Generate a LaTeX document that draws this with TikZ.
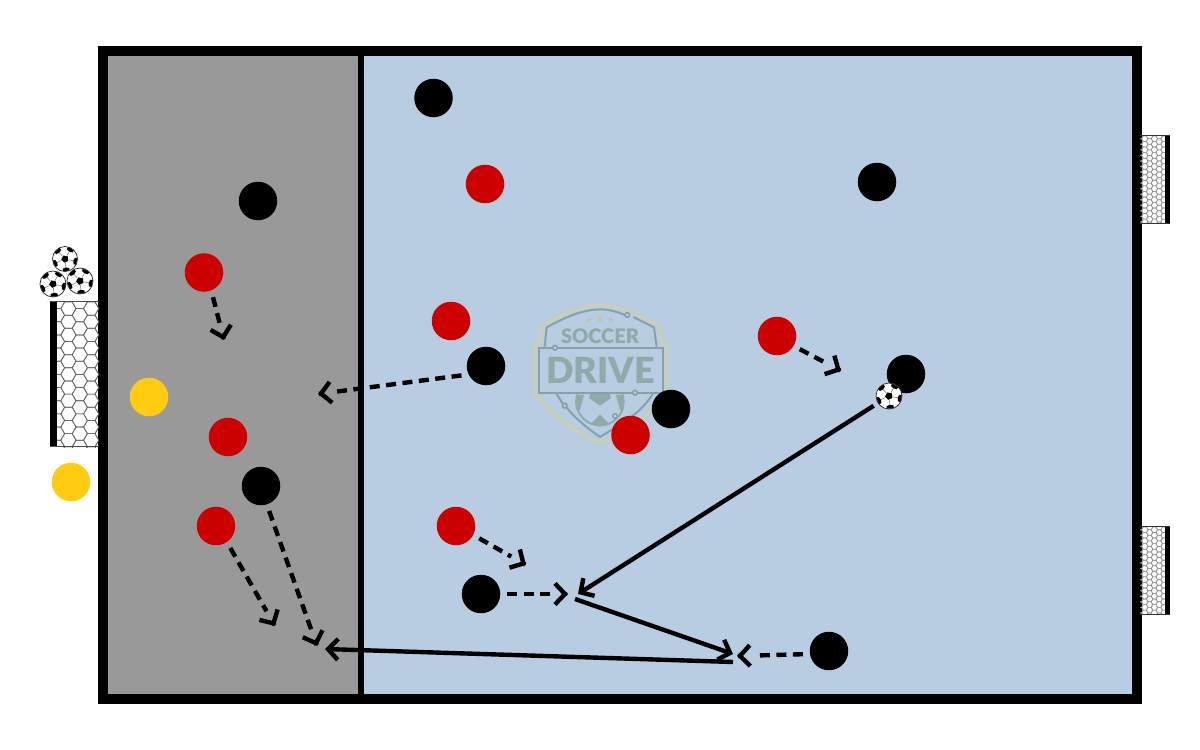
\documentclass[tikz,border=0pt]{standalone}
\usepackage{fontspec}
\setmainfont{Lato}
\newfontfamily\logofont{Lato Black}
\usetikzlibrary{arrows.meta,calc}
\definecolor{fieldblue}{HTML}{B8CDE1}
\definecolor{fieldgrey}{HTML}{999999}
\definecolor{pred}{HTML}{CC0000}
\definecolor{pyellow}{HTML}{FFCC11}
\definecolor{logoteal}{HTML}{8FABA9}
\definecolor{logoline}{HTML}{86A2A8}
\definecolor{logogold}{HTML}{CDCFAE}
\tikzset{
  player/.style={circle,minimum size=38.5pt,inner sep=0pt,outer sep=7pt},
  blackp/.style={player,fill=black},
  redp/.style={player,fill=pred},
  yellowp/.style={player,fill=pyellow},
  rundash/.style={line width=4.4pt,dash pattern=on 10pt off 6.5pt,shorten >=17pt},
  runtip/.style={line width=4.4pt,-{Straight Barb[length=10pt,width=21pt]}},
  pass/.style={line width=4.4pt,-{Straight Barb[length=10pt,width=21pt]}},
  ballspot/.style={circle,minimum size=36pt,inner sep=0pt},
  pics/sball/.style={code={
    \begin{scope}
      \fill[white] (0,0) circle (#1);
      \clip (0,0) circle (#1);
      \fill[black] (90+12:0.3*#1) -- (162+12:0.3*#1) -- (234+12:0.3*#1) -- (306+12:0.3*#1) -- (18+12:0.3*#1) -- cycle;
      \foreach \a in {12,84,156,228,300}{
        \fill[black] (\a-16:1.0*#1) -- (\a-19:0.80*#1) -- (\a:0.68*#1) -- (\a+19:0.80*#1) -- (\a+16:1.0*#1) -- cycle;
        \draw[black!55,line width=0.5pt] (\a:0.3*#1) -- (\a:0.7*#1);
      }
    \end{scope}
    \draw[black!85,line width=0.7pt] (0,0) circle (#1);
  }}
}
% dashed run from a node to a free end, with its open head standing apart
\newcommand{\runarrow}[2]{%
  \draw[rundash] (#1) -- (#2);
  \draw[runtip] ($(#2)!1pt!(#1)$) -- (#2);
}
% hexagonal net: x0 y0 x1 y1 cell-size colour
\newcommand{\hexnet}[6]{%
  \begin{scope}
    \clip (#1,#2) rectangle (#3,#4);
    \pgfmathtruncatemacro{\ncols}{(#3-#1)/(1.5*#5)+2}
    \pgfmathtruncatemacro{\nrows}{(#4-#2)/(1.732*#5)+2}
    \foreach \ci in {0,...,\ncols}{
      \foreach \ri in {0,...,\nrows}{
        \pgfmathsetmacro{\hx}{#1+\ci*1.5*#5}
        \pgfmathsetmacro{\hy}{#2+(\ri+0.5*mod(\ci,2))*1.732*#5}
        \draw[#6,line width=0.7pt] (\hx+#5,\hy) -- (\hx+0.5*#5,\hy+0.866*#5) -- (\hx-0.5*#5,\hy+0.866*#5) -- (\hx-#5,\hy) -- (\hx-0.5*#5,\hy-0.866*#5) -- (\hx+0.5*#5,\hy-0.866*#5) -- cycle;
      }
    }
  \end{scope}
}
\begin{document}
\begin{tikzpicture}[x=1pt,y=-1pt]
\useasboundingbox (0,0) rectangle (1200,750);
\fill[white] (0,0) rectangle (1200,750);

% field
\fill[fieldgrey] (103,51) rectangle (361,699);
\fill[fieldblue] (361,51) rectangle (1136,699);
\draw[line width=6.5pt] (360.8,51) -- (360.8,699);
\draw[line width=10pt] (102.5,51) rectangle (1136.5,699);

% left goal
\hexnet{57}{302}{99}{447}{7.6}{black!60}
\fill[black] (50,301) rectangle (57,447);
\draw[black!70,line width=1pt] (50,301.5) -- (99,301.5);
\draw[black!70,line width=1pt] (50,446.5) -- (99,446.5);

% right goals
\hexnet{1140}{136}{1166}{223}{3.2}{black!40}
\fill[black] (1165,135) rectangle (1170,224);
\draw[black!80,line width=1pt] (1140,135.5) -- (1170,135.5);
\draw[black!80,line width=1pt] (1140,223.5) -- (1170,223.5);
\hexnet{1140}{527}{1166}{614}{3.2}{black!40}
\fill[black] (1165,526) rectangle (1170,615);
\draw[black!80,line width=1pt] (1140,526.5) -- (1170,526.5);
\draw[black!80,line width=1pt] (1140,614.5) -- (1170,614.5);

% logo (drawn in the coordinates of a 3x crop)
\begin{scope}[shift={(520,295)},x=0.3333pt,y=-0.3333pt]
  \draw[logogold,line width=2.8pt,line join=round]
    (240,30) .. controls (180,32) and (120,60) .. (65,95) -- (60,145) -- (45,145) -- (45,305)
    -- (60,305) .. controls (80,360) and (170,410) .. (240,445)
    .. controls (310,410) and (400,360) .. (425,305) -- (440,305) -- (440,145) -- (425,145) -- (420,95)
    .. controls (360,60) and (300,32) .. (240,30) -- cycle;
  \draw[logoline,line width=2pt,line join=round]
    (315,60) .. controls (290,50) and (265,43) .. (240,43) .. controls (180,45) and (130,70) .. (80,97) -- (74,155);
  \draw[logoline,line width=2pt,line join=round]
    (340,66) -- (402,97) -- (410,155);
  \draw[logoline,line width=1.6pt] (322,60) circle (7);
  \draw[logoline,line width=2pt] (112,158) -- (428,158) -- (428,295) -- (352,295);
  \draw[logoline,line width=2pt] (98,158) -- (58,158) -- (58,295) -- (338,295);
  \draw[logoline,line width=1.6pt] (105,158) circle (7);
  \draw[logoline,line width=1.6pt] (345,293) circle (7);
  \draw[logoline,line width=2pt,line join=round] (110,297) -- (128,326);
  \draw[logoline,line width=2pt,line join=round] (140,338) .. controls (170,375) and (210,405) .. (240,426) .. controls (290,395) and (360,360) .. (398,297);
  \draw[logoline,line width=1.6pt] (134,332) circle (7);
  \draw[logoline,line width=1.6pt] (285,363) circle (7);
  \begin{scope}
    \clip (100,298) rectangle (380,400);
    \clip (240,320) circle (74);
    \draw[logoteal,line width=3pt] (240,320) circle (73);
    \fill[logoteal] (210,296) -- (270,296) -- (272,310) -- (240,332) -- (208,310) -- cycle;
    \fill[logoteal] (165,300) -- (192,300) -- (180,345) -- (165,345) -- cycle;
    \fill[logoteal] (315,300) -- (288,300) -- (300,345) -- (315,345) -- cycle;
    \fill[logoteal] (205,395) -- (240,358) -- (275,395) -- cycle;
  \end{scope}
  \node[text=logoteal,font=\logofont\fontsize{20pt}{21pt}\selectfont,inner sep=0pt] (soccertxt) at (240,123) {SOCCER};
  \node[text=logoteal,font=\logofont\fontsize{36pt}{37pt}\selectfont,inner sep=0pt] (drivetxt) at (242,226) {DRIVE};
  \foreach \sx/\sy/\sr in {206/75/10,240/72/12,273/75/10}{
    \fill[logogold!75!logoteal] (\sx,\sy-\sr)
      \foreach \k in {1,...,9}{ -- ({\sx+(mod(\k,2)==0?\sr:0.42*\sr)*sin(36*\k)},{\sy-(mod(\k,2)==0?\sr:0.42*\sr)*cos(36*\k)}) } -- cycle;
  }
\end{scope}

% players
\node[blackp] (b1) at (433.5,98) {};
\node[blackp] (b2) at (258,201) {};
\node[blackp] (b3) at (877,182) {};
\node[blackp] (b4) at (486,366) {};
\node[blackp] (b5) at (906,374) {};
\node[blackp] (b6) at (671,409) {};
\node[blackp] (b7) at (261,486) {};
\node[blackp] (b8) at (481,594) {};
\node[blackp] (b9) at (829,651) {};
\node[redp] (r1) at (485,184) {};
\node[redp] (r2) at (204,272.5) {};
\node[redp] (r3) at (451,321) {};
\node[redp] (r4) at (777,336) {};
\node[redp] (r5) at (228,437) {};
\node[redp] (r6) at (630.5,435) {};
\node[redp] (r7) at (216,526) {};
\node[redp] (r8) at (456,526) {};
\node[yellowp] (y1) at (149,397) {};
\node[yellowp] (y2) at (71,482) {};

% balls
\pic at (65,259) {sball=12.5};
\pic at (53,284) {sball=13};
\pic at (80,281) {sball=13};
\node[ballspot] (ball) at (889,396) {};
\pic at (889,396) {sball=13};

% free ends
\coordinate (t1) at (224,340);
\coordinate (t2) at (318,394);
\coordinate (t3) at (841,371);
\coordinate (t4) at (526,565);
\coordinate (t5) at (568,594);
\coordinate (t6) at (737,656);
\coordinate (t7) at (275,626);
\coordinate (t8) at (317,646);
\coordinate (p1) at (578,594);
\coordinate (p2s) at (575,599);
\coordinate (p2) at (733,654);
\coordinate (p3s) at (733,662);
\coordinate (p3) at (325,649);

% runs
\runarrow{r2.-70}{t1}
\runarrow{b4.201}{t2}
\runarrow{r4.-30}{t3}
\runarrow{r8.-28}{t4}
\runarrow{b8.0}{t5}
\runarrow{b9.187}{t6}
\runarrow{r7.-57}{t7}
\runarrow{b7.-72}{t8}

% passes
\draw[pass] (ball) -- (p1);
\draw[pass] (p2s) -- (p2);
\draw[pass] (p3s) -- (p3);
\end{tikzpicture}
\end{document}
